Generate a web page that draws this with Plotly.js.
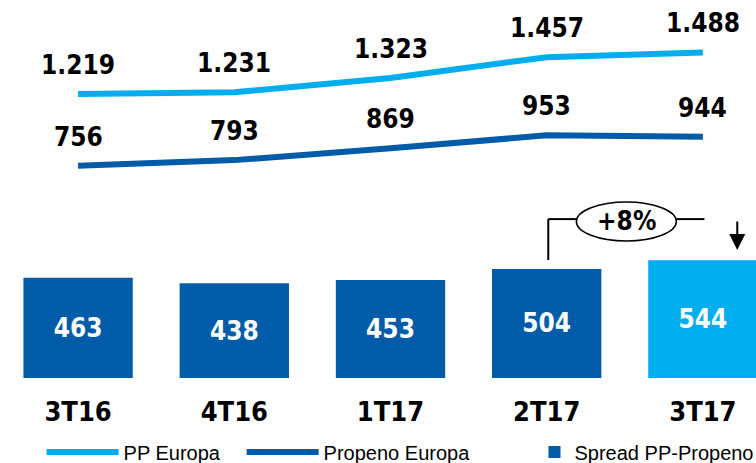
<!DOCTYPE html>
<html>
<head>
<meta charset="utf-8">
<script src="https://cdn.plot.ly/plotly-3.0.1.min.js"></script>
<style>html,body{margin:0;padding:0;background:#fff;}#chart{width:756px;height:463px;}</style>
</head>
<body>
<div id="chart"></div>
<script>
var categories = ['3T16', '4T16', '1T17', '2T17', '3T17'];
var ppEuropa = [1219, 1231, 1323, 1457, 1488];
var propenoEuropa = [756, 793, 869, 953, 944];
var spread = [463, 438, 453, 504, 544];
var ppLabels = ['1.219', '1.231', '1.323', '1.457', '1.488'];
var propenoLabels = ['756', '793', '869', '953', '944'];
var seriesNames = ['PP Europa', 'Propeno Europa', 'Spread PP-Propeno'];
var changeLabel = '+8%';

var LIGHT = '#00AEEF';
var DARK = '#005CA9';
var FONT = '"DejaVu Sans Condensed", "DejaVu Sans", "Liberation Sans", sans-serif';
var LEGFONT = {family: '"Liberation Sans", Arial, sans-serif', size: 20, color: '#000'};

var barColors = spread.map(function (v, i) { return i === spread.length - 1 ? LIGHT : DARK; });

var traces = [
  {
    type: 'scatter', mode: 'lines', name: seriesNames[0], legend: 'legend',
    x: categories, y: ppEuropa, yaxis: 'y2',
    line: {color: LIGHT, width: 6},
    hoverinfo: 'skip'
  },
  {
    type: 'scatter', mode: 'lines', name: seriesNames[1], legend: 'legend2',
    x: categories, y: propenoEuropa, yaxis: 'y2',
    line: {color: DARK, width: 6},
    hoverinfo: 'skip'
  },
  {
    type: 'bar', name: seriesNames[2], legend: 'legend3',
    x: categories, y: spread, width: 0.7,
    marker: {color: barColors},
    text: spread.map(String), textposition: 'inside', insidetextanchor: 'middle',
    textangle: 0,
    insidetextfont: {family: FONT, size: 26, color: '#ffffff', weight: 'bold'},
    hoverinfo: 'skip'
  }
];

var annotations = [];
categories.forEach(function (c, i) {
  annotations.push({x: c, y: ppEuropa[i], xref: 'x', yref: 'y2', text: ppLabels[i],
    showarrow: false, yanchor: 'bottom', yshift: 12,
    font: {family: FONT, size: 26, color: '#000', weight: 'bold'}});
  annotations.push({x: c, y: propenoEuropa[i], xref: 'x', yref: 'y2', text: propenoLabels[i],
    showarrow: false, yanchor: 'bottom', yshift: 12,
    font: {family: FONT, size: 26, color: '#000', weight: 'bold'}});
});
annotations.push({x: 3.51, y: 725, xref: 'x', yref: 'y', text: changeLabel, showarrow: false,
  font: {family: FONT, size: 26, color: '#000', weight: 'bold'}});
annotations.push({x: 4.22, y: 591, xref: 'x', yref: 'y', text: '', showarrow: true,
  ax: 0, ay: -30, arrowhead: 2, arrowsize: 1.6, arrowwidth: 2, arrowcolor: '#000'});

var shapes = [
  {type: 'line', xref: 'x', yref: 'y', x0: 3.01, x1: 3.01, y0: 545, y1: 734, line: {color: '#000', width: 2}},
  {type: 'line', xref: 'x', yref: 'y', x0: 3.01, x1: 3.19, y0: 734, y1: 734, line: {color: '#000', width: 2}},
  {type: 'line', xref: 'x', yref: 'y', x0: 3.83, x1: 4.01, y0: 734, y1: 734, line: {color: '#000', width: 2}},
  {type: 'circle', xref: 'x', yref: 'y', x0: 3.19, x1: 3.83, y0: 633, y1: 813,
    line: {color: '#000', width: 1.5}, fillcolor: '#ffffff'}
];

function legendAt(x, itemwidth) {
  return {orientation: 'h', x: x, xanchor: 'left', y: 0.024, yanchor: 'middle',
    font: LEGFONT, itemwidth: itemwidth, bgcolor: 'rgba(0,0,0,0)'};
}

var layout = {
  width: 756, height: 463,
  margin: {l: 0, r: 0, t: 0, b: 0, pad: 0, autoexpand: false},
  paper_bgcolor: '#ffffff', plot_bgcolor: '#ffffff',
  showlegend: true,
  legend: legendAt(0.055, 72),
  legend2: legendAt(0.3196, 72),
  legend3: legendAt(0.707, 30),
  xaxis: {type: 'category', range: [-0.5, 4.34], showgrid: false, zeroline: false, showline: false,
    anchor: 'free', position: 0.1836, automargin: false,
    ticks: '', ticklabelstandoff: 15,
    tickfont: {family: FONT, size: 27, color: '#000', weight: 'bold'}, fixedrange: true},
  yaxis: {range: [-392.6, 1746], visible: false, showgrid: false, zeroline: false, fixedrange: true},
  yaxis2: {range: [-1161, 1826], overlaying: 'y', visible: false, showgrid: false, zeroline: false, fixedrange: true},
  annotations: annotations,
  shapes: shapes
};

Plotly.newPlot('chart', traces, layout, {displayModeBar: false, staticPlot: true});
</script>
</body>
</html>
